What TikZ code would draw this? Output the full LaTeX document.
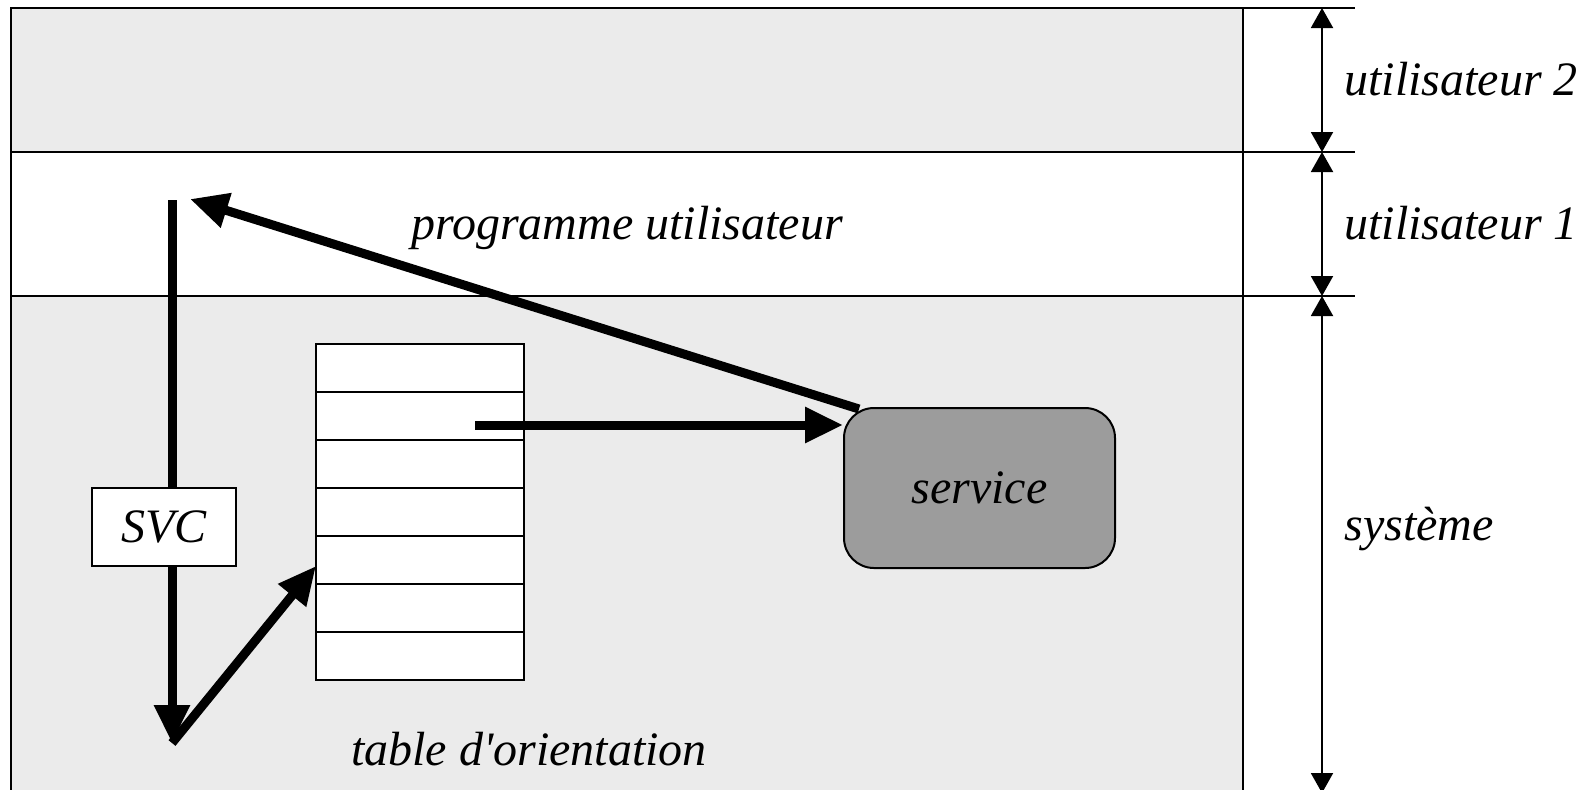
\documentclass[tikz,border=0pt]{standalone}
\usepackage{fontspec}
\setmainfont{Liberation Serif}
\usetikzlibrary{arrows.meta}
\definecolor{bandgrey}{HTML}{EBEBEB}
\definecolor{servgrey}{HTML}{9C9C9C}
\begin{document}
\begin{tikzpicture}[x=0.5pt,y=-0.5pt,font=\fontsize{24}{28}\selectfont\itshape,
    thin line/.style={line width=1pt},
    big arrow/.style={-{Triangle[length=19pt,width=17pt]},line width=4.5pt},
    span arrow/.style={{Triangle[length=10pt,width=11pt]}-{Triangle[length=10pt,width=11pt]},line width=1pt},
    cell/.style={draw,fill=white,line width=1pt,minimum width=104pt,minimum height=24pt,inner sep=0pt},
    svc box/.style={draw,fill=white,line width=0.75pt,minimum width=72pt,minimum height=39pt,inner sep=0pt},
    serv box/.style={draw,fill=servgrey,line width=1pt,rounded corners=15pt,minimum width=135.5pt,minimum height=80pt},
    level text/.style={anchor=west,inner sep=0pt}]
    \clip (0,0) rectangle (1585,789);
    % niveaux
    \draw[thin line,fill=bandgrey] (11,8) rectangle (1243,152);
    \draw[thin line,fill=white] (11,152) rectangle (1243,296);
    \draw[thin line,fill=bandgrey] (11,296) rectangle (1243,830);
    \draw[thin line] (1243,8) -- (1355,8) (1243,152) -- (1355,152) (1243,296) -- (1355,296);

    \coordinate (l0) at (1322,8);
    \coordinate (l1) at (1322,152);
    \coordinate (l2) at (1322,296);
    \coordinate (l3) at (1322,793);
    \draw[span arrow] (l0) -- (l1);
    \draw[span arrow] (l1) -- (l2);
    \draw[span arrow] (l2) -- (l3);

    \node[level text] (u2) at (1344,79) {utilisateur 2};
    \node[level text] (u1) at (1344,223) {utilisateur 1};
    \node[level text] (sys) at (1344,529) {système};

    % table
    \foreach \i in {1,...,7}
        \node[cell] (cell\i) at (420,{368+48*(\i-1)}) {};
    \node (tab) at (529,749) {table d\textquotesingle orientation};

    \node[serv box] (service) at (979.5,488) {service};
    \node (prog) at (627,228) {programme utilisateur};

    % appel
    \coordinate (svctop) at (172,200);
    \coordinate (svcbot) at (172,743);
    \coordinate (entry) at (316,566);
    \coordinate (ptr) at (475,425);
    \coordinate (ret) at (859,409);
    \coordinate (back) at (190,199);

    \draw[big arrow] (svctop) -- (svcbot);
    \node[svc box] (svc) at (164,527) {SVC};
    \draw[big arrow] (svcbot) -- (entry);
    \draw[big arrow] (ptr) -- (service.west |- ptr);
    \draw[big arrow] (ret) -- (back);
\end{tikzpicture}
\end{document}
